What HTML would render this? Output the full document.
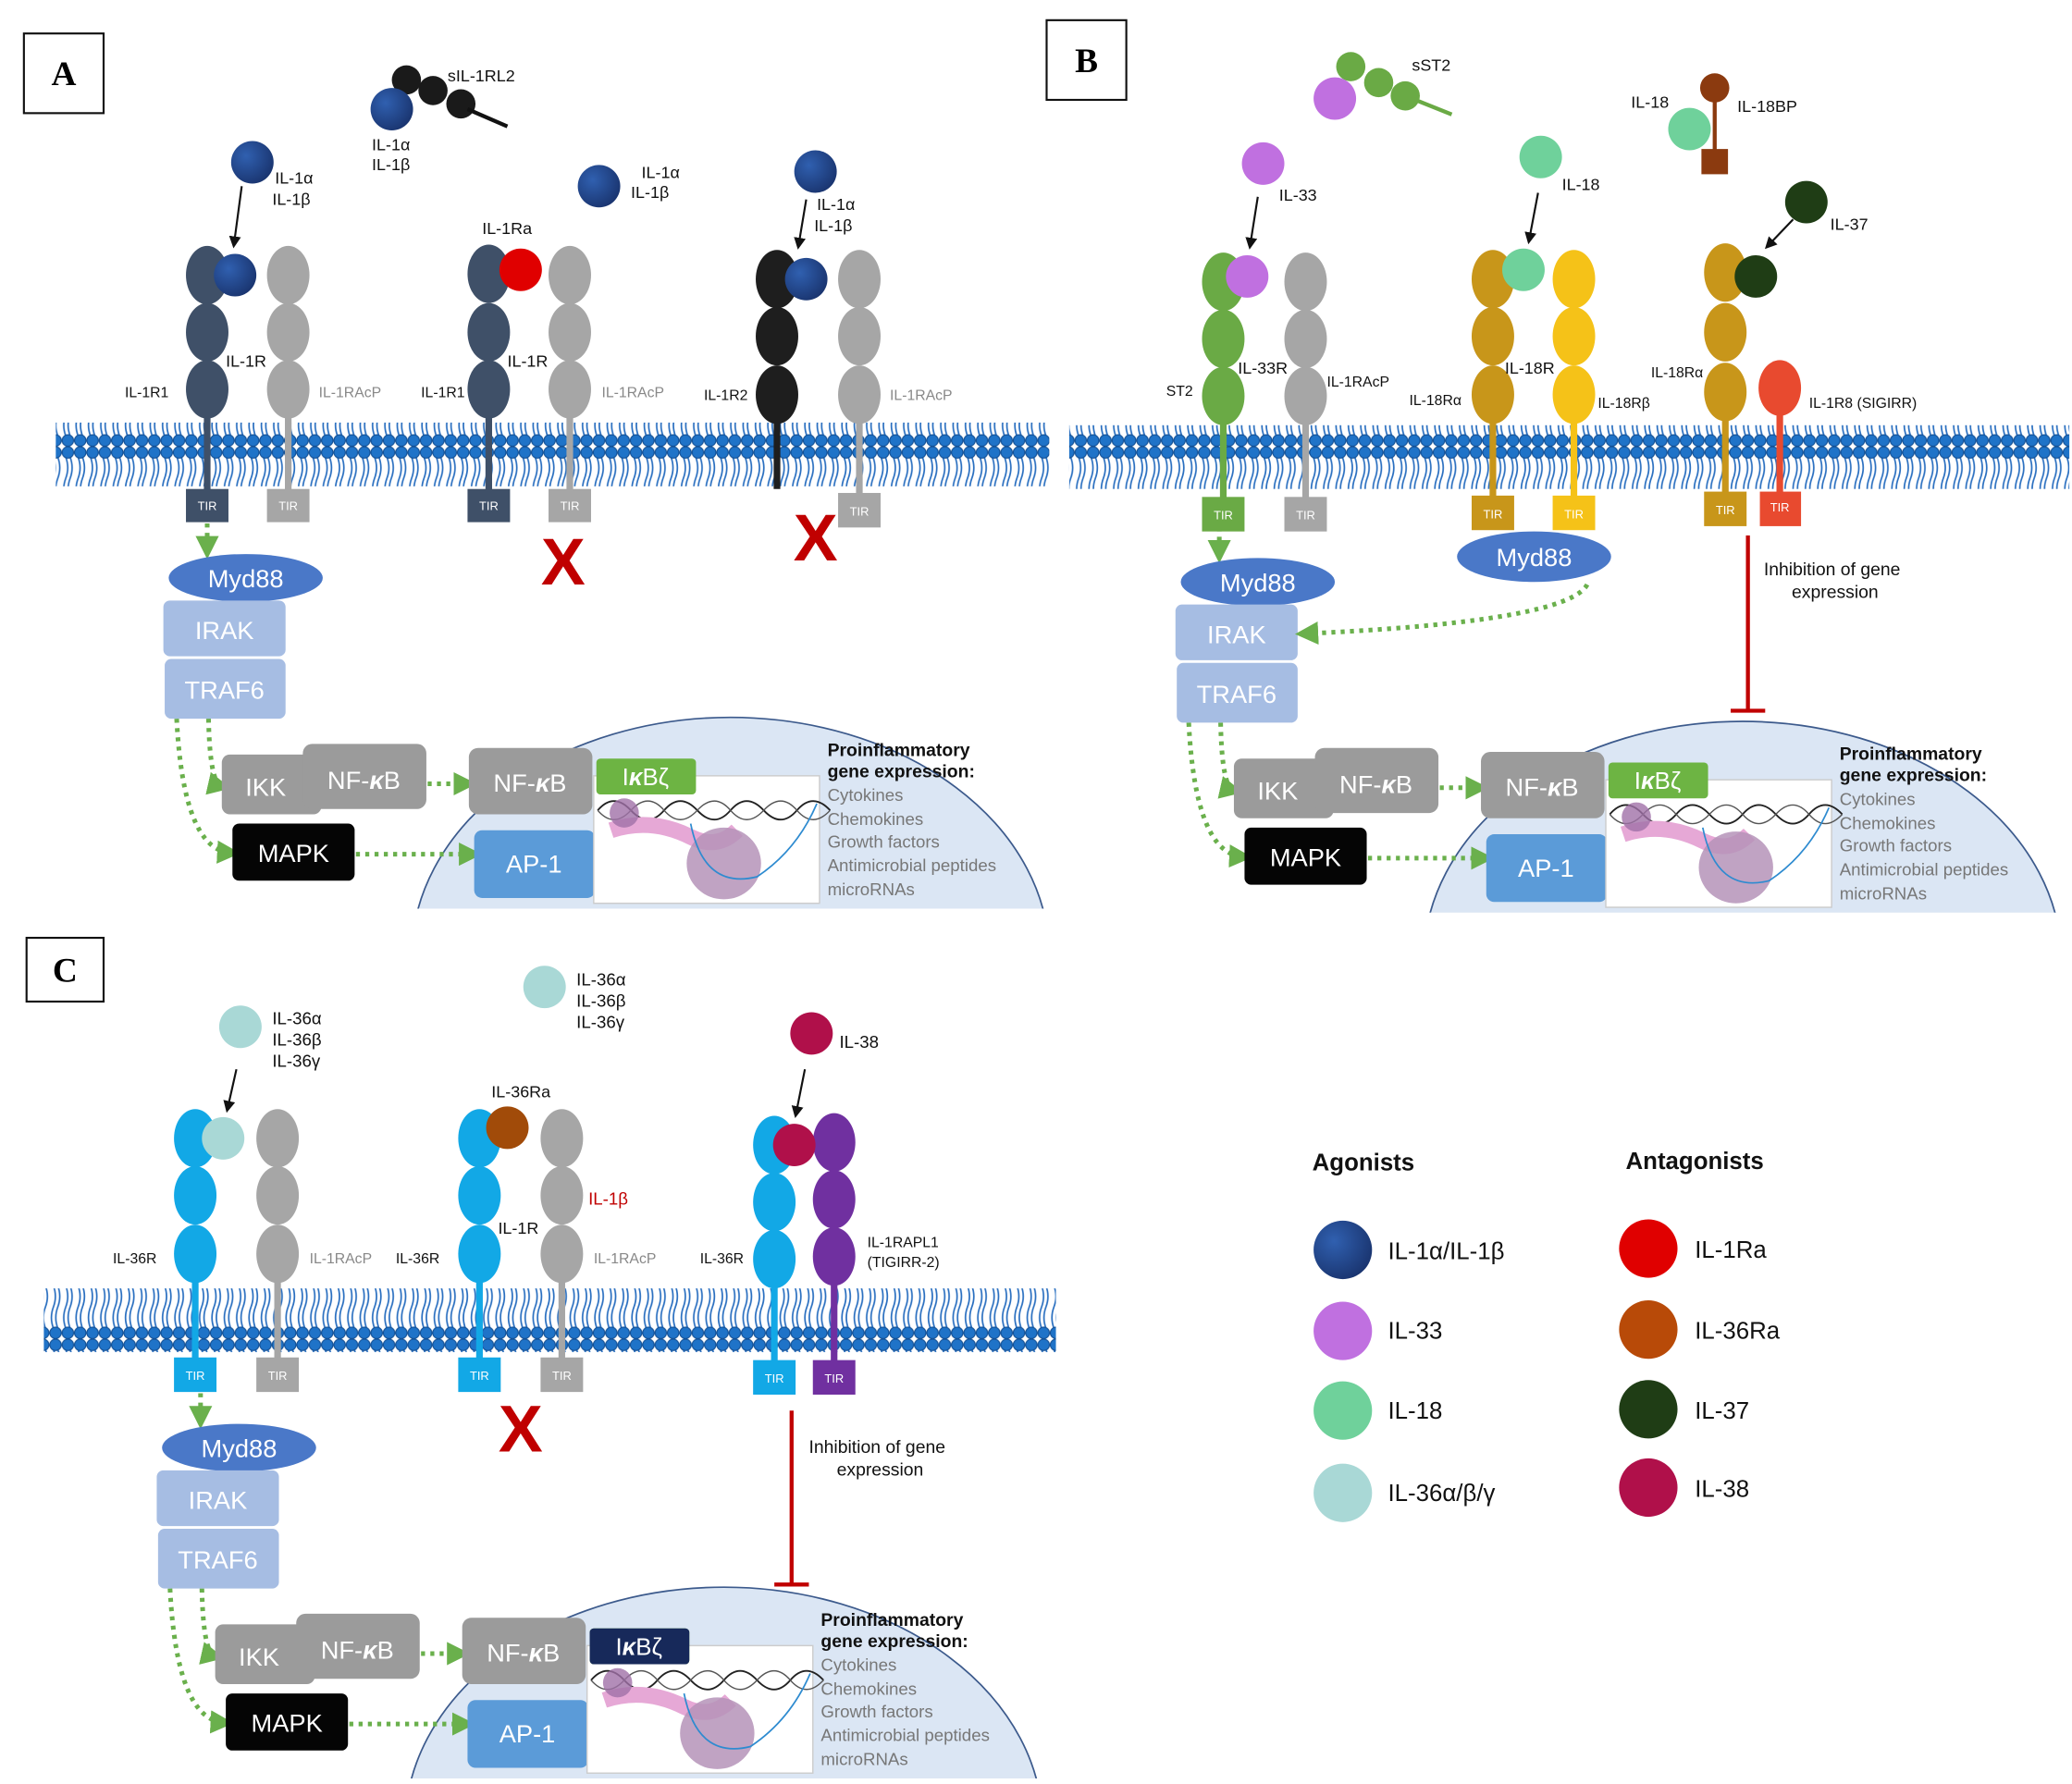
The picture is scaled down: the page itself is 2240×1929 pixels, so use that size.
<!DOCTYPE html>
<html><head><meta charset="utf-8"><style>
html,body{margin:0;padding:0;background:#fff;width:2240px;height:1929px;overflow:hidden;}
svg{display:block;}
text{font-family:"Liberation Sans",sans-serif;}
text.serif{font-family:"Liberation Serif",serif;}
</style></head><body>
<svg width="2240" height="1929" viewBox="0 0 1560 1343" xmlns="http://www.w3.org/2000/svg">
<defs>
<pattern id="mem" x="0" y="0" width="9.3" height="48" patternUnits="userSpaceOnUse">
<path d="M3,8 q3,8 0,16 q-3,8 0,16 M6.3,8 q3,8 0,16 q-3,8 0,16" stroke="#2a6fc0" stroke-width="1.2" fill="none"/>
<circle cx="4.6" cy="4.5" r="4.3" fill="#1f73c8" stroke="#124f94" stroke-width="0.8"/>
<circle cx="4.6" cy="43.5" r="4.3" fill="#1f73c8" stroke="#124f94" stroke-width="0.8"/>
</pattern>
<marker id="ga" viewBox="0 0 10 10" refX="6" refY="5" markerWidth="5" markerHeight="5" orient="auto"><path d="M0,0 L10,5 L0,10z" fill="#6ab04c"/></marker>
<marker id="ka" viewBox="0 0 10 10" refX="8" refY="5" markerWidth="6" markerHeight="6" orient="auto"><path d="M0,0 L10,5 L0,10z" fill="#111"/></marker>
<clipPath id="pc"><rect x="0" y="0" width="800" height="684"/></clipPath>
<g id="pw">
<g clip-path="url(#pc)">
<ellipse cx="550" cy="720" rx="240" ry="180" fill="#dbe6f4" stroke="#3c5a8c" stroke-width="1.2"/>
</g>
<g stroke="#6ab04c" stroke-width="3.5" stroke-dasharray="3 4" fill="none">
<path d="M156,394 V414" marker-end="url(#ga)"/>
<path d="M157,541 Q158,590 167,592" marker-end="url(#ga)"/>
<path d="M133,541 Q138,640 174,642" marker-end="url(#ga)"/>
<path d="M322,590 H352" marker-end="url(#ga)"/>
<path d="M268,643 H356" marker-end="url(#ga)"/>
</g>
<ellipse cx="185" cy="435" rx="58" ry="18" fill="#4a78c8"/>
<text x="185" y="442" font-size="19" fill="#fff" text-anchor="middle">Myd88</text>
<rect x="123" y="452" width="92" height="42" rx="5" fill="#a6bde3"/>
<text x="169" y="481" font-size="19" fill="#fff" text-anchor="middle">IRAK</text>
<rect x="124" y="496" width="91" height="45" rx="5" fill="#a6bde3"/>
<text x="169" y="526" font-size="19" fill="#fff" text-anchor="middle">TRAF6</text>
<rect x="167" y="568" width="75" height="45" rx="6" fill="#9b9b9b"/>
<text x="200" y="599" font-size="19" fill="#fff" text-anchor="middle">IKK</text>
<rect x="228" y="560" width="93" height="49" rx="7" fill="#9b9b9b"/>
<text x="274" y="594" font-size="19" fill="#fff" text-anchor="middle">NF-<tspan font-style="italic" font-weight="bold">κ</tspan>B</text>
<rect x="175" y="620" width="92" height="43" rx="5" fill="#050505"/>
<text x="221" y="649" font-size="19" fill="#fff" text-anchor="middle">MAPK</text>
<rect x="353" y="563" width="93" height="50" rx="7" fill="#9b9b9b"/>
<text x="399" y="596" font-size="19" fill="#fff" text-anchor="middle">NF-<tspan font-style="italic" font-weight="bold">κ</tspan>B</text>
<rect x="357" y="625" width="91" height="51" rx="6" fill="#5b9bd8"/>
<text x="402" y="657" font-size="19" fill="#fff" text-anchor="middle">AP-1</text>
<rect x="447" y="584" width="170" height="96" fill="#fff" stroke="#cccccc"/>
<path d="M450,610 q12,-14 25,0 t25,0 t25,0 t25,0 t25,0 t25,0 t25,0" stroke="#222" stroke-width="1.3" fill="none"/>
<path d="M450,610 q12,14 25,0 t25,0 t25,0 t25,0 t25,0 t25,0 t25,0" stroke="#555" stroke-width="1" fill="none"/>
<path d="M460,625 q30,-10 60,5 q20,10 35,-5" stroke="#e6a8d6" stroke-width="12" fill="none"/>
<circle cx="470" cy="612" r="11" fill="#a070a8" opacity="0.8"/>
<ellipse cx="545" cy="650" rx="28" ry="27" fill="#b593b9" opacity="0.85"/>
<path d="M520,620 q10,50 50,40 q30,-20 45,-55" stroke="#2e8bd0" stroke-width="1.2" fill="none"/>
<rect x="449" y="571" width="75" height="27" rx="3" fill="#6db443"/>
<text x="486" y="591" font-size="18" fill="#fff" text-anchor="middle">I<tspan font-style="italic" font-weight="bold">κ</tspan>Bζ</text>
<text x="623" y="569" font-size="13.5" font-weight="bold" fill="#111">Proinflammatory</text>
<text x="623" y="585" font-size="13.5" font-weight="bold" fill="#111">gene expression:</text>
<g font-size="13" fill="#777">
<text x="623" y="603">Cytokines</text>
<text x="623" y="621">Chemokines</text>
<text x="623" y="638">Growth factors</text>
<text x="623" y="656">Antimicrobial peptides</text>
<text x="623" y="674">microRNAs</text>
</g>
</g>
<radialGradient id="gn" cx="0.35" cy="0.35" r="0.7"><stop offset="0" stop-color="#3060b0"/><stop offset="1" stop-color="#1a3570"/></radialGradient>
</defs>

<rect x="42" y="318" width="748" height="48" fill="url(#mem)"/>
<rect x="805" y="320" width="753" height="48" fill="url(#mem)"/>
<rect x="33" y="970" width="762" height="48" fill="url(#mem)"/>

<use href="#pw"/>
<use href="#pw" transform="translate(762,3)"/>
<use href="#pw" transform="translate(-5,655)"/>
<rect x="444" y="1226" width="75" height="27" rx="3" fill="#17295a"/>
<text x="481" y="1246" font-size="18" fill="#fff" text-anchor="middle">I<tspan font-style="italic" font-weight="bold">κ</tspan>Bζ</text>

<g font-weight="bold" font-size="26" text-anchor="middle">
<rect x="18" y="25" width="60" height="60" fill="#fff" stroke="#111" stroke-width="1.5"/><text class="serif" x="48" y="64">A</text>
<rect x="788" y="15" width="60" height="60" fill="#fff" stroke="#111" stroke-width="1.5"/><text class="serif" x="818" y="54">B</text>
<rect x="20" y="706" width="58" height="48" fill="#fff" stroke="#111" stroke-width="1.5"/><text class="serif" x="49" y="739">C</text>
</g>

<g font-size="12.5" fill="#111">
<circle cx="306" cy="60" r="11" fill="#1a1a1a"/><circle cx="326" cy="68" r="11" fill="#1a1a1a"/><circle cx="347" cy="78" r="11" fill="#1a1a1a"/>
<line x1="352" y1="82" x2="382" y2="95" stroke="#111" stroke-width="3"/>
<circle cx="295" cy="82" r="16" fill="url(#gn)"/>
<text x="337" y="61">sIL-1RL2</text>
<text x="280" y="113">IL-1α</text><text x="280" y="128">IL-1β</text>
<circle cx="190" cy="122" r="16" fill="url(#gn)"/>
<text x="207" y="138">IL-1α</text><text x="205" y="154">IL-1β</text>
<line x1="182" y1="140" x2="176" y2="185" stroke="#111" stroke-width="1.5" marker-end="url(#ka)"/>
<line x1="156" y1="300" x2="156" y2="370" stroke="#3f5068" stroke-width="5"/>
<ellipse cx="156" cy="207" rx="16" ry="22" fill="#3f5068"/><ellipse cx="156" cy="250" rx="16" ry="22" fill="#3f5068"/><ellipse cx="156" cy="293" rx="16" ry="22" fill="#3f5068"/>
<circle cx="177" cy="207" r="16" fill="url(#gn)"/>
<line x1="217" y1="300" x2="217" y2="370" stroke="#a6a6a6" stroke-width="5"/>
<ellipse cx="217" cy="207" rx="16" ry="22" fill="#a6a6a6"/><ellipse cx="217" cy="250" rx="16" ry="22" fill="#a6a6a6"/><ellipse cx="217" cy="293" rx="16" ry="22" fill="#a6a6a6"/>
<rect x="140" y="368" width="32" height="25" fill="#3f5068"/><text x="156" y="384" font-size="9" fill="#fff" text-anchor="middle">TIR</text>
<rect x="201" y="368" width="32" height="25" fill="#a6a6a6"/><text x="217" y="384" font-size="9" fill="#fff" text-anchor="middle">TIR</text>
<text x="170" y="276">IL-1R</text><text x="94" y="299" font-size="11">IL-1R1</text><text x="240" y="299" font-size="11" fill="#888">IL-1RAcP</text>
<line x1="368" y1="300" x2="368" y2="370" stroke="#3f5068" stroke-width="5"/>
<ellipse cx="368" cy="206" rx="16" ry="22" fill="#3f5068"/><ellipse cx="368" cy="250" rx="16" ry="22" fill="#3f5068"/><ellipse cx="368" cy="293" rx="16" ry="22" fill="#3f5068"/>
<circle cx="392" cy="203" r="16" fill="#e00000"/>
<line x1="429" y1="300" x2="429" y2="370" stroke="#a6a6a6" stroke-width="5"/>
<ellipse cx="429" cy="207" rx="16" ry="22" fill="#a6a6a6"/><ellipse cx="429" cy="250" rx="16" ry="22" fill="#a6a6a6"/><ellipse cx="429" cy="293" rx="16" ry="22" fill="#a6a6a6"/>
<rect x="352" y="368" width="32" height="25" fill="#3f5068"/><text x="368" y="384" font-size="9" fill="#fff" text-anchor="middle">TIR</text>
<rect x="413" y="368" width="32" height="25" fill="#a6a6a6"/><text x="429" y="384" font-size="9" fill="#fff" text-anchor="middle">TIR</text>
<text x="363" y="176">IL-1Ra</text><text x="382" y="276">IL-1R</text><text x="317" y="299" font-size="11">IL-1R1</text><text x="453" y="299" font-size="11" fill="#888">IL-1RAcP</text>
<text x="424" y="440" font-size="50" fill="#c00000" text-anchor="middle" font-weight="bold">X</text>
<circle cx="451" cy="140" r="16" fill="url(#gn)"/>
<text x="483" y="134">IL-1α</text><text x="475" y="149">IL-1β</text>
<circle cx="614" cy="129" r="16" fill="url(#gn)"/>
<text x="615" y="158">IL-1α</text><text x="613" y="174">IL-1β</text>
<line x1="607" y1="150" x2="601" y2="186" stroke="#111" stroke-width="1.5" marker-end="url(#ka)"/>
<line x1="585" y1="300" x2="585" y2="368" stroke="#1e1e1e" stroke-width="5"/>
<ellipse cx="585" cy="210" rx="16" ry="22" fill="#1e1e1e"/><ellipse cx="585" cy="253" rx="16" ry="22" fill="#1e1e1e"/><ellipse cx="585" cy="297" rx="16" ry="22" fill="#1e1e1e"/>
<circle cx="607" cy="210" r="16" fill="url(#gn)"/>
<line x1="647" y1="300" x2="647" y2="372" stroke="#a6a6a6" stroke-width="5"/>
<ellipse cx="647" cy="210" rx="16" ry="22" fill="#a6a6a6"/><ellipse cx="647" cy="253" rx="16" ry="22" fill="#a6a6a6"/><ellipse cx="647" cy="297" rx="16" ry="22" fill="#a6a6a6"/>
<rect x="631" y="371" width="32" height="26" fill="#a6a6a6"/><text x="647" y="388" font-size="9" fill="#fff" text-anchor="middle">TIR</text>
<text x="530" y="301" font-size="11">IL-1R2</text><text x="670" y="301" font-size="11" fill="#888">IL-1RAcP</text>
<text x="614" y="422" font-size="50" fill="#c00000" text-anchor="middle" font-weight="bold">X</text>

<circle cx="1017" cy="50" r="11" fill="#6aaa45"/><circle cx="1038" cy="62" r="11" fill="#6aaa45"/><circle cx="1058" cy="72" r="11" fill="#6aaa45"/>
<line x1="1063" y1="74" x2="1093" y2="86" stroke="#6aaa45" stroke-width="3"/>
<circle cx="1005" cy="74" r="16" fill="#c070e0"/>
<text x="1063" y="53">sST2</text>
<circle cx="951" cy="123" r="16" fill="#c070e0"/>
<text x="963" y="151">IL-33</text>
<line x1="947" y1="148" x2="941" y2="186" stroke="#111" stroke-width="1.5" marker-end="url(#ka)"/>
<line x1="921" y1="305" x2="921" y2="376" stroke="#6aaa45" stroke-width="5"/>
<ellipse cx="921" cy="212" rx="16" ry="22" fill="#6aaa45"/><ellipse cx="921" cy="255" rx="16" ry="22" fill="#6aaa45"/><ellipse cx="921" cy="298" rx="16" ry="22" fill="#6aaa45"/>
<circle cx="939" cy="208" r="16" fill="#c070e0"/>
<line x1="983" y1="305" x2="983" y2="376" stroke="#a6a6a6" stroke-width="5"/>
<ellipse cx="983" cy="212" rx="16" ry="22" fill="#a6a6a6"/><ellipse cx="983" cy="255" rx="16" ry="22" fill="#a6a6a6"/><ellipse cx="983" cy="298" rx="16" ry="22" fill="#a6a6a6"/>
<rect x="905" y="374" width="32" height="26" fill="#6aaa45"/><text x="921" y="391" font-size="9" fill="#fff" text-anchor="middle">TIR</text>
<rect x="967" y="374" width="32" height="26" fill="#a6a6a6"/><text x="983" y="391" font-size="9" fill="#fff" text-anchor="middle">TIR</text>
<text x="932" y="281">IL-33R</text><text x="878" y="298" font-size="11">ST2</text><text x="999" y="291" font-size="11">IL-1RAcP</text>

<circle cx="1160" cy="118" r="16" fill="#6fd19b"/>
<text x="1176" y="143">IL-18</text>
<line x1="1158" y1="145" x2="1151" y2="182" stroke="#111" stroke-width="1.5" marker-end="url(#ka)"/>
<line x1="1124" y1="305" x2="1124" y2="376" stroke="#c8961a" stroke-width="5"/>
<ellipse cx="1124" cy="210" rx="16" ry="22" fill="#c8961a"/><ellipse cx="1124" cy="253" rx="16" ry="22" fill="#c8961a"/><ellipse cx="1124" cy="297" rx="16" ry="22" fill="#c8961a"/>
<line x1="1185" y1="305" x2="1185" y2="376" stroke="#f5c218" stroke-width="5"/>
<ellipse cx="1185" cy="210" rx="16" ry="22" fill="#f5c218"/><ellipse cx="1185" cy="253" rx="16" ry="22" fill="#f5c218"/><ellipse cx="1185" cy="297" rx="16" ry="22" fill="#f5c218"/>
<circle cx="1147" cy="203" r="16" fill="#6fd19b"/>
<rect x="1108" y="373" width="32" height="26" fill="#c8961a"/><text x="1124" y="390" font-size="9" fill="#fff" text-anchor="middle">TIR</text>
<rect x="1169" y="373" width="32" height="26" fill="#f5c218"/><text x="1185" y="390" font-size="9" fill="#fff" text-anchor="middle">TIR</text>
<text x="1133" y="281">IL-18R</text><text x="1061" y="305" font-size="11">IL-18Rα</text><text x="1203" y="307" font-size="11">IL-18Rβ</text>
<ellipse cx="1155" cy="419" rx="58" ry="19" fill="#4a78c8"/>
<text x="1155" y="426" font-size="19" fill="#fff" text-anchor="middle">Myd88</text>
<path d="M1195,440 Q1180,468 982,477" stroke="#6ab04c" stroke-width="3.5" stroke-dasharray="3 4" fill="none" marker-end="url(#ga)"/>

<text x="1228" y="81">IL-18</text>
<line x1="1291" y1="70" x2="1291" y2="115" stroke="#8b3a0f" stroke-width="3"/>
<circle cx="1291" cy="66" r="11" fill="#8b3a0f"/>
<rect x="1281" y="112" width="20" height="19" fill="#8b3a0f"/>
<circle cx="1272" cy="97" r="16" fill="#6fd19b"/>
<text x="1308" y="84">IL-18BP</text>

<circle cx="1360" cy="152" r="16" fill="#1f3d15"/>
<text x="1378" y="173">IL-37</text>
<line x1="1350" y1="165" x2="1330" y2="186" stroke="#111" stroke-width="1.5" marker-end="url(#ka)"/>
<line x1="1299" y1="300" x2="1299" y2="372" stroke="#c8961a" stroke-width="5"/>
<ellipse cx="1299" cy="205" rx="16" ry="22" fill="#c8961a"/><ellipse cx="1299" cy="250" rx="16" ry="22" fill="#c8961a"/><ellipse cx="1299" cy="295" rx="16" ry="22" fill="#c8961a"/>
<circle cx="1322" cy="208" r="16" fill="#1f3d15"/>
<line x1="1340" y1="300" x2="1340" y2="372" stroke="#e84a2f" stroke-width="5"/>
<ellipse cx="1340" cy="292" rx="16" ry="21" fill="#e84a2f"/>
<rect x="1283" y="370" width="32" height="26" fill="#c8961a"/><text x="1299" y="387" font-size="9" fill="#fff" text-anchor="middle">TIR</text>
<rect x="1325" y="370" width="31" height="26" fill="#e84a2f"/><text x="1340" y="385" font-size="9" fill="#fff" text-anchor="middle">TIR</text>
<text x="1243" y="284" font-size="11">IL-18Rα</text><text x="1362" y="307" font-size="11">IL-1R8 (SIGIRR)</text>
<line x1="1316" y1="403" x2="1316" y2="535" stroke="#c00000" stroke-width="3"/>
<line x1="1303" y1="535" x2="1329" y2="535" stroke="#c00000" stroke-width="3"/>
<text x="1328" y="433" font-size="13.5">Inhibition of gene</text><text x="1349" y="450" font-size="13.5">expression</text>

<circle cx="181" cy="773" r="16" fill="#a9d8d6"/>
<text x="205" y="771" font-size="13">IL-36α</text><text x="205" y="787" font-size="13">IL-36β</text><text x="205" y="803" font-size="13">IL-36γ</text>
<line x1="178" y1="805" x2="171" y2="836" stroke="#111" stroke-width="1.5" marker-end="url(#ka)"/>
<line x1="147" y1="950" x2="147" y2="1024" stroke="#12a8e6" stroke-width="5"/>
<ellipse cx="147" cy="857" rx="16" ry="22" fill="#12a8e6"/><ellipse cx="147" cy="900" rx="16" ry="22" fill="#12a8e6"/><ellipse cx="147" cy="944" rx="16" ry="22" fill="#12a8e6"/>
<circle cx="168" cy="857" r="16" fill="#a9d8d6"/>
<line x1="209" y1="950" x2="209" y2="1024" stroke="#a6a6a6" stroke-width="5"/>
<ellipse cx="209" cy="857" rx="16" ry="22" fill="#a6a6a6"/><ellipse cx="209" cy="900" rx="16" ry="22" fill="#a6a6a6"/><ellipse cx="209" cy="944" rx="16" ry="22" fill="#a6a6a6"/>
<rect x="131" y="1022" width="32" height="26" fill="#12a8e6"/><text x="147" y="1039" font-size="9" fill="#fff" text-anchor="middle">TIR</text>
<rect x="193" y="1022" width="32" height="26" fill="#a6a6a6"/><text x="209" y="1039" font-size="9" fill="#fff" text-anchor="middle">TIR</text>
<text x="85" y="951" font-size="11">IL-36R</text><text x="233" y="951" font-size="11" fill="#888">IL-1RAcP</text>

<circle cx="410" cy="743" r="16" fill="#a9d8d6"/>
<text x="434" y="742" font-size="13">IL-36α</text><text x="434" y="758" font-size="13">IL-36β</text><text x="434" y="774" font-size="13">IL-36γ</text>
<line x1="361" y1="950" x2="361" y2="1024" stroke="#12a8e6" stroke-width="5"/>
<ellipse cx="361" cy="857" rx="16" ry="22" fill="#12a8e6"/><ellipse cx="361" cy="900" rx="16" ry="22" fill="#12a8e6"/><ellipse cx="361" cy="944" rx="16" ry="22" fill="#12a8e6"/>
<circle cx="382" cy="849" r="16" fill="#a14b09"/>
<line x1="423" y1="950" x2="423" y2="1024" stroke="#a6a6a6" stroke-width="5"/>
<ellipse cx="423" cy="857" rx="16" ry="22" fill="#a6a6a6"/><ellipse cx="423" cy="900" rx="16" ry="22" fill="#a6a6a6"/><ellipse cx="423" cy="944" rx="16" ry="22" fill="#a6a6a6"/>
<rect x="345" y="1022" width="32" height="26" fill="#12a8e6"/><text x="361" y="1039" font-size="9" fill="#fff" text-anchor="middle">TIR</text>
<rect x="407" y="1022" width="32" height="26" fill="#a6a6a6"/><text x="423" y="1039" font-size="9" fill="#fff" text-anchor="middle">TIR</text>
<text x="370" y="826">IL-36Ra</text><text x="443" y="907" fill="#c00000" font-size="13">IL-1β</text><text x="375" y="929">IL-1R</text>
<text x="298" y="951" font-size="11">IL-36R</text><text x="447" y="951" font-size="11" fill="#888">IL-1RAcP</text>
<text x="392" y="1093" font-size="50" fill="#c00000" text-anchor="middle" font-weight="bold">X</text>

<circle cx="611" cy="778" r="16" fill="#b0104a"/>
<text x="632" y="789" font-size="13">IL-38</text>
<line x1="606" y1="805" x2="599" y2="840" stroke="#111" stroke-width="1.5" marker-end="url(#ka)"/>
<line x1="583" y1="955" x2="583" y2="1026" stroke="#12a8e6" stroke-width="5"/>
<ellipse cx="583" cy="862" rx="16" ry="22" fill="#12a8e6"/><ellipse cx="583" cy="905" rx="16" ry="22" fill="#12a8e6"/><ellipse cx="583" cy="948" rx="16" ry="22" fill="#12a8e6"/>
<line x1="628" y1="955" x2="628" y2="1026" stroke="#7030a0" stroke-width="5"/>
<ellipse cx="628" cy="860" rx="16" ry="22" fill="#7030a0"/><ellipse cx="628" cy="903" rx="16" ry="22" fill="#7030a0"/><ellipse cx="628" cy="946" rx="16" ry="22" fill="#7030a0"/>
<circle cx="598" cy="862" r="16" fill="#b0104a"/>
<rect x="567" y="1024" width="32" height="26" fill="#12a8e6"/><text x="583" y="1041" font-size="9" fill="#fff" text-anchor="middle">TIR</text>
<rect x="612" y="1024" width="32" height="26" fill="#7030a0"/><text x="628" y="1041" font-size="9" fill="#fff" text-anchor="middle">TIR</text>
<text x="527" y="951" font-size="11">IL-36R</text><text x="653" y="939" font-size="11">IL-1RAPL1</text><text x="653" y="954" font-size="11">(TIGIRR-2)</text>
<line x1="596" y1="1062" x2="596" y2="1193" stroke="#c00000" stroke-width="3"/>
<line x1="583" y1="1193" x2="609" y2="1193" stroke="#c00000" stroke-width="3"/>
<text x="609" y="1094" font-size="13.5">Inhibition of gene</text><text x="630" y="1111" font-size="13.5">expression</text>
</g>

<g font-size="18" fill="#111">
<text x="988" y="881" font-weight="bold">Agonists</text>
<text x="1224" y="880" font-weight="bold">Antagonists</text>
<circle cx="1011" cy="941" r="22" fill="url(#gn)"/><text x="1045" y="948">IL-1α/IL-1β</text>
<circle cx="1011" cy="1002" r="22" fill="#c070e0"/><text x="1045" y="1008">IL-33</text>
<circle cx="1011" cy="1062" r="22" fill="#6fd19b"/><text x="1045" y="1068">IL-18</text>
<circle cx="1011" cy="1124" r="22" fill="#a9d8d6"/><text x="1045" y="1130">IL-36α/β/γ</text>
<circle cx="1241" cy="940" r="22" fill="#e00000"/><text x="1276" y="947">IL-1Ra</text>
<circle cx="1241" cy="1001" r="22" fill="#b84a08"/><text x="1276" y="1008">IL-36Ra</text>
<circle cx="1241" cy="1061" r="22" fill="#1f3d15"/><text x="1276" y="1068">IL-37</text>
<circle cx="1241" cy="1120" r="22" fill="#b0104a"/><text x="1276" y="1127">IL-38</text>
</g>
</svg>
</body></html>
